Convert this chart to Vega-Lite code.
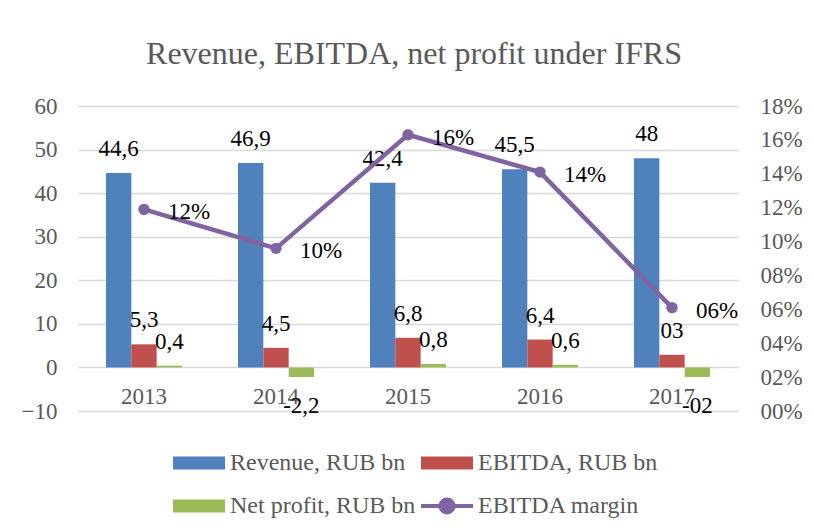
{
  "$schema": "https://vega.github.io/schema/vega-lite/v6.json",
  "width": 660,
  "height": 305,
  "autosize": {"type": "none"},
  "padding": {"left": 78, "top": 106, "right": 75, "bottom": 119},
  "background": "white",
  "config": {
    "font": "Liberation Serif",
    "view": {"stroke": null},
    "text": {"font": "Liberation Serif"},
    "legend": {"labelFont": "Liberation Serif"},
    "axis": {"labelFont": "Liberation Serif", "labelFontSize": 23, "labelColor": "#595959", "domain": false, "ticks": false, "title": null}
  },
  "title": {
    "text": "Revenue, EBITDA, net profit under IFRS",
    "font": "Liberation Serif",
    "fontSize": 32,
    "fontWeight": "normal",
    "color": "#595959",
    "baseline": "alphabetic",
    "anchor": "middle",
    "offset": -1,
    "dx": 6
  },
  "datasets": {
    "bars": [
      {"year": "2013", "series": "Revenue, RUB bn", "value": 44.6, "label": "44,6"},
      {"year": "2013", "series": "EBITDA, RUB bn", "value": 5.3, "label": "5,3"},
      {"year": "2013", "series": "Net profit, RUB bn", "value": 0.4, "label": "0,4"},
      {"year": "2014", "series": "Revenue, RUB bn", "value": 46.9, "label": "46,9"},
      {"year": "2014", "series": "EBITDA, RUB bn", "value": 4.5, "label": "4,5"},
      {"year": "2014", "series": "Net profit, RUB bn", "value": -2.2, "label": "-2,2"},
      {"year": "2015", "series": "Revenue, RUB bn", "value": 42.4, "label": "42,4"},
      {"year": "2015", "series": "EBITDA, RUB bn", "value": 6.8, "label": "6,8"},
      {"year": "2015", "series": "Net profit, RUB bn", "value": 0.8, "label": "0,8"},
      {"year": "2016", "series": "Revenue, RUB bn", "value": 45.5, "label": "45,5"},
      {"year": "2016", "series": "EBITDA, RUB bn", "value": 6.4, "label": "6,4"},
      {"year": "2016", "series": "Net profit, RUB bn", "value": 0.6, "label": "0,6"},
      {"year": "2017", "series": "Revenue, RUB bn", "value": 48, "label": "48"},
      {"year": "2017", "series": "EBITDA, RUB bn", "value": 2.9, "label": "03"},
      {"year": "2017", "series": "Net profit, RUB bn", "value": -2.2, "label": "-02"}
    ],
    "margin": [
      {"year": "2013", "margin": 0.119, "label": "12%"},
      {"year": "2014", "margin": 0.096, "label": "10%"},
      {"year": "2015", "margin": 0.163, "label": "16%"},
      {"year": "2016", "margin": 0.141, "label": "14%"},
      {"year": "2017", "margin": 0.061, "label": "06%"}
    ]
  },
  "encoding": {
    "x": {
      "field": "year",
      "type": "nominal",
      "scale": {"paddingInner": 0.424, "paddingOuter": 0.212},
      "axis": {"labelAngle": 0, "labelPadding": -26, "grid": false}
    }
  },
  "layer": [
    {
      "data": {"name": "bars"},
      "encoding": {
        "y": {
          "field": "value",
          "type": "quantitative",
          "scale": {"domain": [-10, 60], "nice": false},
          "axis": {"orient": "left", "values": [-10, 0, 10, 20, 30, 40, 50, 60], "grid": true, "gridColor": "#D9D9D9", "gridWidth": 1.3, "labelPadding": 21}
        },
        "xOffset": {
          "field": "series",
          "type": "nominal",
          "scale": {"domain": ["Revenue, RUB bn", "EBITDA, RUB bn", "Net profit, RUB bn"], "paddingInner": 0, "paddingOuter": 0}
        }
      },
      "layer": [
        {
          "mark": {"type": "bar"},
          "encoding": {
            "color": {
              "field": "series",
              "type": "nominal",
              "scale": {
                "domain": ["Revenue, RUB bn", "EBITDA, RUB bn", "Net profit, RUB bn", "EBITDA margin"],
                "range": ["#4F81BD", "#C0504D", "#9BBB59", "#8064A2"]
              },
              "legend": {
                "title": null,
                "orient": "none",
                "direction": "horizontal",
                "legendX": 109,
                "legendY": 345,
                "columns": 2,
                "padding": 0,
                "columnPadding": -3,
                "rowPadding": 16,
                "symbolSize": 2704,
                "labelOffset": 19,
                "labelFont": "Liberation Serif",
                "labelFontSize": 24,
                "labelColor": "#595959",
                "labelLimit": 400,
                "encode": {
                  "symbols": {
                    "update": {
                      "shape": {"signal": "datum.value === 'EBITDA margin' ? 'M-1,0H1M0.25,0A0.25,0.25 0 1,1 -0.25,0A0.25,0.25 0 1,1 0.25,0Z' : 'M-1,-0.25H1V0.25H-1Z'"},
                      "fill": {"signal": "scale('color', datum.value)"},
                      "stroke": {"signal": "scale('color', datum.value)"},
                      "strokeWidth": {"signal": "datum.value === 'EBITDA margin' ? 4 : 0"},
                      "opacity": {"value": 1},
                      "fillOpacity": {"value": 1}
                    }
                  }
                }
              }
            }
          }
        },
        {
          "transform": [{"filter": "datum.value >= 0"}],
          "mark": {"type": "text", "baseline": "alphabetic", "dy": -17, "fontSize": 23, "font": "Liberation Serif", "color": "black"},
          "encoding": {"text": {"field": "label"}}
        },
        {
          "transform": [{"filter": "datum.value < 0"}],
          "mark": {"type": "text", "baseline": "top", "dy": 18, "fontSize": 23, "font": "Liberation Serif", "color": "black"},
          "encoding": {"text": {"field": "label"}}
        }
      ]
    },
    {
      "data": {"name": "margin"},
      "encoding": {
        "y": {
          "field": "margin",
          "type": "quantitative",
          "scale": {"domain": [0, 0.18], "nice": false},
          "axis": {
            "orient": "right",
            "values": [0, 0.02, 0.04, 0.06, 0.08, 0.1, 0.12, 0.14, 0.16, 0.18],
            "grid": false,
            "labelPadding": 22,
            "labelExpr": "(datum.value < 0.095 ? '0' : '') + format(datum.value * 100, '.0f') + '%'"
          }
        }
      },
      "layer": [
        {
          "mark": {"type": "line", "strokeWidth": 4.5, "point": {"filled": true, "size": 130}},
          "encoding": {"color": {"datum": "EBITDA margin"}}
        },
        {
          "mark": {"type": "text", "align": "left", "baseline": "middle", "dx": 24, "dy": 3, "fontSize": 23, "font": "Liberation Serif", "color": "black"},
          "encoding": {"text": {"field": "label"}}
        }
      ]
    }
  ],
  "resolve": {"scale": {"y": "independent"}}
}
